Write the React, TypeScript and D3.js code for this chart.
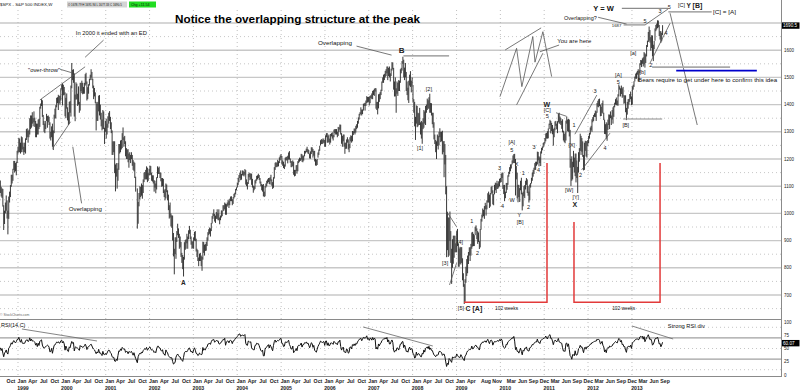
import React from "react";
import * as d3 from "d3";

type Bar = [number, number, number] | null; // [low, high, close]

// ---------- DATA (weekly S&P 500, read/estimated from the chart) ----------
const warmupCloses = [1012, 1020, 1034, 1049, 1055, 1069, 1100, 1095, 1122, 1110, 1123, 1108, 1121, 1108, 1108, 1110, 1091, 1113, 1098, 1100, 1134, 1146, 1165, 1187, 1141, 1121];

const w1998: Bar[] = [[1075,1121,1089],[1062,1098,1062],[1057,1092,1081],[1025,1090,1027],[939,1030,973],[961,1010,1010],[1000,1040,1021],[1010,1066,1044],[981,1048,1002],[923,1010,984],[980,1062,1056],[1040,1080,1070],[1060,1104,1098],[1098,1142,1141],[1110,1142,1125],[1120,1164,1163],[1160,1193,1192],[1150,1193,1176],[1155,1185,1166],[1140,1190,1188],[1185,1230,1228],[1220,1244,1229]];
const w1999: Bar[] = [[1225,1278,1275],[1225,1275,1243],[1220,1260,1225],[1225,1283,1279],[1235,1280,1239],[1225,1260,1230],[1215,1245,1239],[1225,1260,1238],[1220,1276,1275],[1270,1310,1294],[1280,1313,1299],[1260,1303,1282],[1280,1308,1293],[1290,1350,1348],[1310,1360,1319],[1315,1360,1356],[1330,1372,1335],[1320,1350,1346],[1335,1375,1338],[1318,1352,1330],[1280,1340,1302],[1280,1330,1327],[1290,1330,1293],[1290,1345,1342],[1310,1348,1316],[1318,1392,1391],[1385,1404,1403],[1395,1420,1418],[1355,1416,1357],[1325,1362,1329],[1300,1340,1313],[1295,1330,1327],[1310,1340,1336],[1340,1366,1348],[1315,1358,1357],[1335,1360,1351],[1325,1355,1335],[1275,1335,1277],[1268,1300,1282],[1280,1320,1317],[1245,1330,1247],[1233,1305,1301],[1295,1363,1362],[1348,1385,1370],[1350,1398,1397],[1390,1425,1422],[1405,1427,1416],[1380,1436,1433],[1405,1432,1417],[1400,1433,1421],[1415,1460,1458],[1455,1474,1469]];
const w2000: Bar[] = [[1397,1478,1441],[1434,1473,1465],[1436,1465,1441],[1357,1445,1360],[1350,1425,1424],[1385,1441,1387],[1342,1390,1346],[1325,1372,1333],[1330,1410,1409],[1370,1413,1395],[1356,1470,1464],[1460,1553,1527],[1490,1528,1499],[1480,1530,1516],[1356,1515,1357],[1339,1437,1434],[1418,1482,1452],[1420,1477,1433],[1395,1440,1420],[1400,1467,1406],[1370,1410,1378],[1378,1480,1478],[1450,1480,1457],[1442,1488,1465],[1438,1480,1441],[1440,1465,1455],[1440,1480,1478],[1470,1512,1509],[1475,1517,1481],[1415,1485,1419],[1420,1464,1462],[1440,1475,1471],[1470,1495,1491],[1490,1510,1507],[1500,1530,1521],[1490,1520,1495],[1460,1495,1466],[1420,1470,1449],[1430,1461,1437],[1405,1445,1409],[1305,1410,1374],[1340,1403,1396],[1340,1410,1380],[1375,1433,1427],[1360,1435,1365],[1345,1400,1367],[1320,1370,1341],[1305,1345,1315],[1310,1380,1369],[1310,1375,1312],[1255,1315,1305],[1300,1340,1320]];
const w2001: Bar[] = [[1275,1348,1298],[1290,1330,1318],[1315,1357,1342],[1330,1370,1355],[1340,1376,1349],[1310,1355,1315],[1295,1335,1301],[1215,1305,1245],[1215,1265,1234],[1225,1265,1233],[1148,1265,1150],[1081,1180,1139],[1135,1185,1160],[1091,1165,1128],[1120,1185,1183],[1160,1255,1242],[1220,1255,1234],[1225,1268,1266],[1235,1270,1245],[1240,1295,1291],[1270,1316,1277],[1245,1280,1260],[1255,1285,1265],[1210,1265,1214],[1200,1240,1226],[1200,1235,1224],[1188,1236,1190],[1168,1220,1215],[1196,1225,1210],[1185,1215,1205],[1200,1225,1214],[1175,1215,1190],[1160,1196,1161],[1155,1190,1185],[1130,1186,1134],[1080,1135,1085],null,[944,1092,966],[962,1042,1041],[1026,1075,1071],[1052,1100,1091],[1060,1097,1073],[1065,1110,1104],[1054,1104,1087],[1075,1125,1120],[1115,1150,1138],[1125,1152,1150],[1125,1160,1139],[1125,1173,1167],[1115,1168,1124],[1120,1148,1144],[1140,1164,1161]];
const w2002: Bar[] = [[1140,1176,1173],[1142,1174,1146],[1120,1150,1128],[1117,1140,1134],[1110,1140,1122],[1080,1122,1096],[1095,1120,1105],[1074,1110,1090],[1088,1133,1132],[1130,1173,1165],[1145,1168,1166],[1145,1172,1148],[1130,1150,1147],[1118,1150,1122],[1098,1130,1111],[1100,1130,1125],[1075,1127,1076],[1060,1085,1073],[1048,1090,1054],[1055,1110,1106],[1078,1106,1083],[1048,1085,1067],[1012,1069,1027],[981,1030,1007],[985,1040,990],[952,1000,990],[947,993,989],[900,992,921],[842,928,847],[776,870,852],[850,912,864],[833,912,908],[895,935,928],[920,962,940],[910,945,916],[870,925,893],[875,915,889],[840,895,846],[818,855,827],[795,847,800],[768,840,835],[830,894,884],[866,902,897],[870,905,900],[890,925,894],[870,915,909],[905,938,930],[925,954,936],[905,940,912],[885,915,889],[870,898,895],[872,897,875]];
const w2003: Bar[] = [[870,912,908],[900,932,927],[898,935,901],[860,907,861],[840,870,856],[825,865,829],[806,838,834],[825,852,851],[825,855,841],[806,845,829],[789,840,833],[830,896,895],[855,895,864],[845,885,876],[862,887,868],[863,895,893],[880,912,898],[900,931,930],[920,942,933],[925,948,944],[915,945,933],[935,965,964],[963,990,987],[980,1000,988],[990,1015,995],[970,998,976],[965,992,986],[980,1005,998],[980,1015,993],[975,1000,998],[975,1015,980],[960,985,977],[975,992,990],[985,1011,993],[990,1010,1008],[1008,1030,1021],[1010,1030,1018],[1015,1040,1036],[995,1036,996],[995,1034,1029],[1025,1040,1038],[1030,1050,1039],[1020,1045,1028],[1030,1054,1050],[1045,1062,1053],[1045,1063,1050],[1030,1052,1035],[1035,1060,1058],[1055,1072,1061],[1060,1076,1075],[1070,1090,1089],[1085,1096,1095],[1095,1112,1108]];
const w2004: Bar[] = [[1105,1131,1122],[1115,1141,1140],[1130,1150,1141],[1122,1158,1131],[1124,1145,1142],[1140,1158,1146],[1139,1157,1144],[1136,1152,1145],[1142,1163,1156],[1106,1159,1120],[1100,1125,1110],[1088,1115,1108],[1108,1145,1141],[1133,1150,1139],[1122,1147,1134],[1125,1147,1140],[1105,1146,1107],[1095,1127,1099],[1076,1102,1096],[1085,1100,1094],[1090,1122,1121],[1110,1125,1123],[1120,1138,1137],[1125,1140,1135],[1130,1146,1135],[1123,1141,1126],[1110,1130,1113],[1100,1117,1101],[1085,1108,1096],[1080,1105,1102],[1063,1108,1064],[1060,1080,1064],[1063,1100,1099],[1095,1110,1107],[1100,1120,1113],[1110,1125,1123],[1115,1130,1128],[1108,1130,1110],[1106,1133,1131],[1120,1142,1122],[1102,1125,1108],[1090,1115,1095],[1094,1133,1130],[1128,1170,1167],[1160,1186,1185],[1170,1189,1171],[1170,1185,1183],[1172,1197,1191],[1173,1192,1189],[1185,1206,1195],[1195,1213,1210],[1205,1218,1212]];
const w2005: Bar[] = [[1180,1211,1186],[1175,1195,1185],[1167,1190,1168],[1163,1180,1171],[1172,1205,1203],[1195,1208,1205],[1195,1208,1201],[1184,1212,1211],[1198,1224,1222],[1198,1229,1200],[1186,1202,1190],[1170,1193,1172],[1170,1191,1173],[1174,1195,1192],[1142,1190,1143],[1136,1160,1153],[1138,1160,1157],[1155,1177,1172],[1146,1178,1155],[1155,1192,1190],[1185,1199,1198],[1190,1205,1197],[1193,1203,1201],[1198,1219,1217],[1190,1217,1191],[1188,1212,1211],[1194,1213,1212],[1210,1230,1228],[1220,1230,1227],[1225,1238,1234],[1225,1245,1226],[1220,1237,1231],[1218,1233,1220],[1202,1220,1205],[1201,1228,1218],[1218,1243,1241],[1225,1243,1237],[1205,1237,1215],[1212,1230,1229],[1191,1230,1196],[1176,1200,1186],[1175,1197,1180],[1178,1200,1198],[1205,1224,1220],[1215,1235,1234],[1230,1249,1248],[1250,1269,1268],[1255,1273,1265],[1255,1271,1259],[1257,1276,1267],[1260,1272,1268],[1245,1270,1248]];
const w2006: Bar[] = [[1245,1287,1285],[1280,1295,1287],[1260,1295,1261],[1260,1286,1284],[1262,1290,1264],[1253,1275,1267],[1260,1292,1288],[1283,1295,1289],[1275,1298,1287],[1268,1288,1281],[1280,1308,1307],[1295,1310,1302],[1290,1310,1295],[1290,1310,1295],[1280,1300,1289],[1285,1318,1311],[1300,1316,1310],[1308,1327,1325],[1290,1326,1291],[1256,1295,1267],[1245,1285,1280],[1265,1290,1288],[1245,1290,1252],[1219,1260,1251],[1237,1260,1245],[1238,1272,1270],[1260,1280,1265],[1235,1272,1236],[1225,1255,1240],[1240,1280,1279],[1265,1287,1280],[1260,1285,1266],[1265,1303,1302],[1288,1302,1295],[1295,1312,1311],[1290,1312,1299],[1297,1322,1320],[1310,1328,1315],[1315,1340,1336],[1330,1353,1350],[1345,1366,1365],[1360,1372,1368],[1365,1390,1377],[1360,1382,1364],[1365,1382,1380],[1378,1403,1401],[1395,1405,1400],[1378,1407,1396],[1395,1415,1409],[1405,1431,1427],[1408,1428,1410],[1410,1428,1418]];
const w2007: Bar[] = [[1397,1430,1409],[1405,1432,1431],[1424,1435,1430],[1420,1441,1422],[1420,1450,1449],[1435,1453,1438],[1432,1458,1456],[1448,1461,1451],[1385,1460,1387],[1380,1410,1402],[1364,1410,1386],[1386,1438,1437],[1410,1440,1421],[1420,1446,1444],[1435,1455,1453],[1450,1485,1484],[1480,1500,1495],[1480,1510,1505],[1490,1513,1505],[1500,1524,1522],[1505,1530,1515],[1515,1540,1536],[1490,1540,1507],[1505,1535,1533],[1500,1540,1502],[1485,1515,1503],[1505,1532,1530],[1525,1556,1552],[1530,1555,1534],[1455,1535,1458],[1430,1485,1433],[1430,1500,1453],[1370,1460,1445],[1440,1485,1479],[1432,1480,1474],[1450,1490,1454],[1450,1488,1484],[1480,1530,1525],[1515,1535,1527],[1525,1560,1557],[1550,1576,1561],[1500,1565,1500],[1490,1536,1535],[1500,1553,1509],[1450,1520,1453],[1435,1485,1458],[1416,1462,1441],[1406,1488,1481],[1470,1510,1504],[1465,1523,1468],[1445,1488,1484],[1470,1500,1478]];
const w2008: Bar[] = [[1410,1472,1411],[1370,1420,1401],[1320,1410,1325],[1270,1355,1331],[1330,1397,1396],[1317,1395,1331],[1320,1370,1350],[1325,1368,1353],[1325,1388,1331],[1290,1335,1294],[1275,1340,1289],[1256,1335,1330],[1310,1350,1316],[1315,1380,1370],[1330,1375,1333],[1325,1395,1390],[1370,1400,1398],[1380,1422,1414],[1385,1416,1388],[1385,1427,1425],[1370,1440,1375],[1370,1406,1400],[1360,1405,1361],[1328,1370,1360],[1315,1370,1318],[1272,1335,1278],[1255,1290,1262],[1225,1270,1240],[1200,1265,1260],[1248,1290,1257],[1235,1285,1260],[1250,1300,1296],[1280,1313,1298],[1262,1300,1292],[1265,1300,1283],[1217,1304,1242],[1225,1265,1252],[1133,1266,1255],[1180,1255,1213],[1070,1215,1099],[839,1100,899],[865,1006,940],[840,985,876],[845,985,968],[900,1007,930],[818,935,873],[741,870,800],[800,905,896],[815,918,876],[837,918,879],[857,918,887],[857,890,873]];
const w2009: Bar[] = [[857,935,931],[880,943,890],[804,890,850],[804,871,831],[815,877,826],[812,875,869],[818,876,827],[754,835,770],[730,780,735],[667,740,683],[675,758,756],[745,804,769],[770,832,816],[780,845,843],[814,858,857],[845,875,869],[825,876,866],[845,888,878],[870,930,929],[878,932,883],[880,925,887],[880,920,919],[920,951,940],[935,956,946],[905,945,921],[888,935,918],[895,930,896],[869,898,879],[875,943,940],[940,980,979],[970,996,987],[985,1018,1010],[990,1013,1005],[980,1027,1026],[1015,1039,1029],[992,1030,1016],[1015,1048,1042],[1040,1074,1068],[1040,1080,1045],[1020,1069,1026],[1025,1075,1071],[1070,1097,1087],[1075,1101,1080],[1033,1085,1036],[1030,1071,1069],[1070,1105,1093],[1085,1113,1091],[1075,1111,1091],[1090,1120,1106],[1090,1110,1106],[1095,1118,1102],[1100,1127,1126],[1114,1130,1115]];
const w2010: Bar[] = [[1115,1146,1145],[1130,1150,1136],[1090,1150,1092],[1071,1104,1074],[1045,1105,1066],[1056,1080,1075],[1075,1112,1109],[1087,1112,1105],[1105,1140,1139],[1135,1153,1150],[1145,1170,1160],[1155,1180,1167],[1165,1181,1179],[1180,1195,1194],[1185,1213,1192],[1185,1218,1217],[1185,1219,1187],[1066,1200,1111],[1125,1174,1136],[1055,1150,1088],[1041,1105,1089],[1060,1105,1064],[1042,1093,1092],[1085,1120,1118],[1070,1131,1076],[1011,1075,1023],[1026,1080,1078],[1063,1100,1065],[1056,1104,1102],[1088,1120,1102],[1105,1130,1122],[1075,1125,1079],[1065,1100,1071],[1040,1080,1065],[1048,1106,1105],[1095,1112,1110],[1110,1131,1125],[1120,1150,1149],[1135,1160,1146],[1145,1168,1166],[1160,1185,1176],[1160,1190,1183],[1175,1190,1183],[1180,1227,1225],[1195,1226,1200],[1173,1210,1200],[1185,1206,1189],[1174,1228,1225],[1220,1241,1240],[1232,1246,1244],[1242,1259,1257],[1250,1262,1258]];
const w2011: Bar[] = [[1257,1277,1271],[1265,1294,1293],[1275,1296,1283],[1275,1302,1276],[1276,1312,1311],[1310,1330,1329],[1325,1344,1343],[1294,1340,1320],[1303,1333,1321],[1291,1325,1304],[1249,1310,1279],[1280,1315,1314],[1305,1338,1332],[1322,1340,1329],[1309,1330,1320],[1295,1339,1337],[1335,1366,1364],[1330,1370,1340],[1330,1356,1338],[1325,1350,1333],[1311,1340,1331],[1298,1346,1300],[1268,1304,1271],[1262,1292,1271],[1258,1298,1268],[1268,1341,1339],[1330,1356,1344],[1302,1345,1316],[1300,1347,1345],[1283,1345,1292],[1168,1307,1199],[1101,1200,1179],[1120,1210,1124],[1125,1190,1177],[1170,1230,1174],[1150,1205,1154],[1137,1220,1216],[1114,1220,1136],[1130,1195,1131],[1075,1171,1155],[1150,1225,1224],[1190,1240,1238],[1230,1293,1285],[1215,1285,1253],[1227,1277,1263],[1208,1265,1216],[1158,1215,1159],[1160,1260,1244],[1230,1267,1255],[1209,1265,1219],[1205,1266,1265],[1248,1270,1258]];
const w2012: Bar[] = [[1258,1285,1278],[1275,1296,1289],[1290,1316,1315],[1305,1322,1316],[1300,1346,1345],[1335,1354,1343],[1340,1362,1361],[1355,1368,1366],[1354,1378,1370],[1340,1375,1371],[1370,1406,1404],[1392,1414,1397],[1390,1420,1408],[1395,1422,1398],[1357,1400,1370],[1358,1392,1378],[1370,1406,1403],[1367,1415,1369],[1343,1370,1353],[1292,1345,1295],[1291,1328,1317],[1275,1335,1278],[1267,1330,1325],[1307,1345,1343],[1325,1364,1335],[1310,1363,1362],[1350,1375,1355],[1325,1360,1357],[1345,1380,1363],[1330,1390,1386],[1355,1395,1391],[1390,1407,1406],[1400,1420,1418],[1398,1426,1411],[1397,1415,1407],[1396,1438,1438],[1430,1474,1466],[1455,1467,1460],[1430,1460,1441],[1439,1470,1461],[1425,1460,1428],[1430,1465,1433],[1403,1434,1412],[1405,1434,1414],[1372,1434,1380],[1343,1388,1359],[1363,1410,1409],[1385,1420,1416],[1400,1421,1418],[1410,1439,1413],[1420,1448,1430],[1398,1430,1402]];
const w2013: Bar[] = [[1400,1467,1466],[1455,1473,1472],[1465,1486,1486],[1485,1503,1503],[1495,1514,1513],[1495,1518,1518],[1510,1524,1520],[1485,1530,1516],[1485,1525,1518],[1515,1552,1551],[1545,1564,1561],[1538,1563,1556],[1550,1570,1569],[1540,1574,1553],[1548,1593,1588],[1536,1589,1555],[1553,1585,1582],[1577,1619,1614],[1612,1635,1633],[1630,1667,1667],[1635,1687,1650],[1628,1674,1631],[1598,1648,1643],[1608,1655,1627],[1577,1654,1593],[1560,1620,1606],[1604,1634,1632],[1635,1680,1680],[1670,1693,1692],[1676,1698,1692],[1681,1710,1710],[1684,1709,1691],[1652,1693,1656],[1639,1670,1664],[1627,1670,1633],[1633,1664,1655],[1656,1692,1690.5]];

const yearSeries: [string, Bar[]][] = [
  ["1998-08-07", w1998], ["1999-01-08", w1999], ["2000-01-07", w2000], ["2001-01-05", w2001],
  ["2002-01-04", w2002], ["2003-01-03", w2003], ["2004-01-09", w2004], ["2005-01-07", w2005],
  ["2006-01-06", w2006], ["2007-01-05", w2007], ["2008-01-04", w2008], ["2009-01-02", w2009],
  ["2010-01-08", w2010], ["2011-01-07", w2011], ["2012-01-06", w2012], ["2013-01-04", w2013],
];

const priceTicks = [700, 800, 900, 1000, 1100, 1200, 1300, 1400, 1500, 1600];
const rsiTicks = [0, 25, 50, 75, 100];
const tickMonths: [number, number[]][] = [
  [1998, [10]], [1999, [1, 4, 7, 10]], [2000, [1, 4, 7, 10]], [2001, [1, 4, 7, 10]], [2002, [1, 4, 7, 10]],
  [2003, [1, 4, 7, 10]], [2004, [1, 4, 7, 10]], [2005, [1, 4, 7, 10]], [2006, [1, 4, 7, 10]], [2007, [1, 4, 7, 10]],
  [2008, [1, 4, 7, 10]], [2009, [1, 4, 8, 11]], [2010, [3, 6, 9, 12]], [2011, [3, 6, 9, 12]], [2012, [3, 6, 9, 12]], [2013, [3, 6, 9]],
];
const yearLabels = [1999, 2000, 2001, 2002, 2003, 2004, 2005, 2006, 2007, 2008, 2009, 2010, 2011, 2012, 2013];
const lastClose = 1690.5;
const lastRsiLabel = 60.07;

// ---------- helpers ----------
const FONT = "'Liberation Sans', Arial, Helvetica, sans-serif";
const fy = (t: number) => {
  const y = Math.floor(t);
  const a = Date.UTC(y, 0, 1), b = Date.UTC(y + 1, 0, 1);
  return new Date(a + (t - y) * (b - a));
};

const bars: { date: Date; l: number; h: number; c: number }[] = [];
yearSeries.forEach(([s, arr]) => {
  const base = Date.parse(s + "T00:00:00Z");
  arr.forEach((b, i) => {
    if (b) bars.push({ date: new Date(base + i * 7 * 864e5), l: b[0], h: b[1], c: b[2] });
  });
});

function computeRsi(closes: number[], n = 14) {
  const out = new Array(closes.length).fill(NaN);
  let ag = 0, al = 0;
  for (let i = 1; i <= n; i++) {
    const d = closes[i] - closes[i - 1];
    if (d > 0) ag += d; else al -= d;
  }
  ag /= n; al /= n;
  out[n] = 100 - 100 / (1 + ag / al);
  for (let i = n + 1; i < closes.length; i++) {
    const d = closes[i] - closes[i - 1];
    ag = (ag * (n - 1) + Math.max(d, 0)) / n;
    al = (al * (n - 1) + Math.max(-d, 0)) / n;
    out[i] = al === 0 ? 100 : 100 - 100 / (1 + ag / al);
  }
  return out;
}
const allCloses = warmupCloses.concat(bars.map((b) => b.c));
const rsiAll = computeRsi(allCloses);
const rsiVals = rsiAll.slice(warmupCloses.length);

// ---------- annotations (in data units: fractional year, price) ----------
const thinLines: [number, number, number, number][] = [
  [1999.50, 1417, 2000.53, 1539],
  [1999.79, 1239, 2000.20, 1337],
  [2000.95, 1637, 2000.53, 1574],
  [1999.96, 1530, 2000.23, 1517],
  [2000.45, 1037, 2000.25, 1245],
  [2006.72, 1615, 2007.52, 1582],
  [2010.11, 1601, 2010.93, 1682],
  [2010.37, 1399, 2010.97, 1589],
  [2011.34, 1619, 2010.90, 1594],
  [2008.78, 1006, 2009.00, 951],
  [2008.84, 737, 2009.00, 817],
  [2011.27, 1370, 2011.51, 1357],
  [2011.70, 1291, 2012.20, 1435],
  [2011.855, 1160, 2012.50, 1295],
  [2012.23, 1721, 2012.88, 1696],
  [2013.30, 1693, 2013.82, 1751],
  [2013.41, 1552, 2013.87, 1699],
  [2013.87, 1736, 2014.49, 1325],
];
const zigzag: [number, number][] = [[2009.99, 1429], [2010.37, 1607], [2010.49, 1466], [2010.74, 1650], [2010.79, 1556], [2010.97, 1668], [2011.17, 1503]];
const greyHLines: [number, number, number][] = [
  [2007.79, 2008.83, 1579],
  [2012.77, 2013.83, 1754],
  [2013.83, 2014.82, 1741],
  [2012.81, 2013.30, 1693],
  [2012.80, 2013.69, 1347],
];
const redPaths: [number, number][][] = [
  [[2009.17, 673], [2011.064, 673], [2011.064, 1185]],
  [[2011.68, 968], [2011.68, 673], [2013.641, 673], [2013.641, 1185]],
];
const waveLabels: [string, number, number][] = [
  ["[3]", 2008.74, 819], ["[4]", 2009.08, 894], ["1", 2009.35, 972], ["2", 2009.48, 853], ["3", 2009.98, 1166],
  ["4", 2010.05, 1027], ["[A]", 2010.26, 1261], ["5", 2010.26, 1233], ["X", 2010.37, 1182], ["W", 2010.27, 1049],
  ["Y", 2010.43, 994], ["[B]", 2010.45, 970], ["1", 2010.52, 1147], ["2", 2010.64, 1022], ["3", 2010.77, 1243],
  ["4", 2010.87, 1160], ["[C]", 2011.07, 1380], ["5", 2011.07, 1358], ["1", 2011.68, 1325], ["[X]", 2011.63, 1252],
  ["[W]", 2011.57, 1086], ["[Y]", 2011.72, 1059], ["2", 2011.83, 1142], ["4", 2012.39, 1239], ["3", 2012.16, 1450],
  ["[B]", 2012.86, 1325], ["[A]", 2012.69, 1509], ["5", 2012.69, 1484], ["[a]", 2013.03, 1591], ["[b]", 2013.24, 1521],
  ["2", 2013.43, 1546], ["4", 2013.78, 1662], ["5", 2013.30, 1708], ["3", 2013.64, 1745], ["5", 2013.85, 1760],
  ["[2]", 2008.37, 1457], ["[1]", 2008.17, 1240],
];
const boldLabels: [string, number, number, number][] = [
  ["A", 2002.77, 747, 6.5], ["B", 2007.75, 1598, 8], ["W", 2011.06, 1402, 7], ["X", 2011.70, 1031, 7],
];
const notes: [string, number, number, number, number][] = [
  ["In 2000 it ended with an ED", 2000.32, 1664, 5.5, 71],
  ["\"over-throw\"", 1999.23, 1527, 5.5, 32],
  ["Overlapping", 2000.16, 1016, 5.8, 33],
  ["Overlapping", 2005.84, 1626, 5.8, 34],
  ["You are here", 2011.30, 1634, 5.5, 34],
  ["102 weeks", 2009.88, 652, 5.5, 23],
  ["102 weeks", 2012.55, 652, 5.5, 23],
  ["[C] = [A]", 2014.85, 1741, 5.5, 23],
  ["Bears require to get under here to confirm this idea", 2013.14, 1490, 5.4, 139],
];
const rsiLines: [number, number, number, number][] = [
  [1999.09, 86.8, 2000.80, 64.2],
  [2006.87, 90.6, 2008.46, 54.7],
  [2013.00, 92.5, 2013.94, 67.9],
];

export default function App() {
  const x = d3.scaleUtc().domain([fy(1998.5895), fy(2016.4002)]).range([0, 781]);
  const y = d3.scaleLinear().domain([611.8, 1747.8]).range([319, 10]);
  const r = d3.scaleLinear().domain([0, 100]).range([375, 322]);
  const X = (t: number) => x(fy(t));

  const rsiLine = d3.line<number>()
    .defined((v) => !isNaN(v))
    .x((_, i) => x(bars[i].date))
    .y((v) => r(v))(rsiVals) || "";

  const hGrid: number[] = d3.range(650, 1701, 50);
  const fmt = d3.utcFormat("%b");
  const tickList: { d: Date; s: string }[] = [];
  tickMonths.forEach(([yr, ms]) => ms.forEach((m) => {
    const d = new Date(Date.UTC(yr, m - 1, 1));
    tickList.push({ d, s: fmt(d) });
  }));
  const pathOf = d3.line<[number, number]>().x((d) => X(d[0])).y((d) => y(d[1]));

  return (
    <svg width={800} height={391} style={{ display: "block", position: "absolute", left: 0, top: 0, background: "#fff" }} fontFamily={FONT}>
      <defs>
        <clipPath id="mainclip"><rect x={0} y={10} width={781} height={309} /></clipPath>
        <clipPath id="rsiclip"><rect x={0} y={320} width={781} height={56} /></clipPath>
      </defs>
      <rect x={0} y={0} width={800} height={391} fill="#fff" />

      {/* horizontal price grid */}
      {hGrid.map((p) => (
        <line key={"hg" + p} x1={0} x2={781} y1={y(p)} y2={y(p)}
          stroke={p % 100 === 0 ? "#c8c8c8" : "#b8b8b8"} strokeWidth={p % 100 === 0 ? 1.4 : 0.8}
          strokeDasharray={p % 100 === 0 ? undefined : "1,3"} />
      ))}
      {/* RSI grid */}
      {[90, 50, 10].map((v) => (
        <line key={"rg" + v} x1={0} x2={781} y1={r(v)} y2={r(v)} stroke="#b8b8b8" strokeWidth={0.8} strokeDasharray="1,3" />
      ))}
      {[70, 30].map((v) => (
        <line key={"rl" + v} x1={0} x2={781} y1={r(v)} y2={r(v)} stroke="#a0a0a0" strokeWidth={1.2} />
      ))}
      {/* vertical year grid */}
      {yearLabels.map((yr) => (
        <line key={"vg" + yr} x1={x(new Date(Date.UTC(yr, 0, 1)))} x2={x(new Date(Date.UTC(yr, 0, 1)))} y1={10} y2={376}
          stroke="#b0b0b0" strokeWidth={0.8} strokeDasharray="1,3" />
      ))}

      {/* panel borders */}
      <line x1={0} x2={781} y1={319.5} y2={319.5} stroke="#8a8a8a" strokeWidth={1.2} />
      <line x1={0} x2={781} y1={376.5} y2={376.5} stroke="#8a8a8a" strokeWidth={1} />
      <line x1={781.5} x2={781.5} y1={0} y2={377} stroke="#8a8a8a" strokeWidth={1} />

      {/* price bars */}
      <g clipPath="url(#mainclip)" stroke="#2e2e2e" strokeWidth={0.95}>
        {bars.map((b, i) => {
          const xx = x(b.date);
          return <line key={"b" + i} x1={xx} x2={xx} y1={y(b.h)} y2={y(b.l)} />;
        })}
      </g>

      {/* red 102-week markers */}
      {redPaths.map((pts, i) => (
        <path key={"red" + i} d={pathOf(pts) || ""} fill="none" stroke="#e23a3a" strokeWidth={1.5} />
      ))}

      {/* grey annotation lines */}
      {thinLines.map(([t1, p1, t2, p2], i) => (
        <line key={"tl" + i} x1={X(t1)} y1={y(p1)} x2={X(t2)} y2={y(p2)} stroke="#555" strokeWidth={0.8} />
      ))}
      <path d={pathOf(zigzag) || ""} fill="none" stroke="#555" strokeWidth={0.8} />
      {greyHLines.map(([t1, t2, p], i) => (
        <line key={"gh" + i} x1={X(t1)} x2={X(t2)} y1={y(p)} y2={y(p)} stroke="#8c8c8c" strokeWidth={1.2} />
      ))}
      <line x1={X(2013.46)} x2={X(2015.24)} y1={y(1538)} y2={y(1538)} stroke="#a8a8a8" strokeWidth={1.8} />
      <line x1={X(2014.01)} x2={X(2015.85)} y1={y(1525)} y2={y(1525)} stroke="#0000cc" strokeWidth={1.8} />

      {/* wave labels */}
      {waveLabels.map(([s, t, p], i) => (
        <text key={"wl" + i} x={X(t)} y={y(p)} fontSize={5.5} textAnchor="middle" dominantBaseline="central" fill="#222">{s}</text>
      ))}
      {boldLabels.map(([s, t, p, fs], i) => (
        <text key={"bl" + i} x={X(t)} y={y(p)} fontSize={fs} fontWeight="bold" textAnchor="middle" dominantBaseline="central" fill="#222">{s}</text>
      ))}
      {notes.map(([s, t, p, fs, len], i) => (
        <text key={"nt" + i} x={X(t)} y={y(p)} fontSize={fs} dominantBaseline="central" fill="#111"
          textLength={len} lengthAdjust="spacingAndGlyphs">{s}</text>
      ))}
      <text x={X(2009.03)} y={y(652)} dominantBaseline="central" fill="#222">
        <tspan fontSize={5.5}>[5] </tspan><tspan fontSize={7} fontWeight="bold">C [A]</tspan>
      </text>
      <text x={X(2012.20)} y={y(1717)} fontSize={5.5} textAnchor="end" dominantBaseline="central" fill="#111">Overlapping?</text>
      <text x={X(2012.12)} y={y(1754)} fontSize={7.5} fontWeight="bold" dominantBaseline="central" fill="#111">Y = W</text>
      <text x={X(2012.65)} y={y(1689)} fontSize={4.3} textAnchor="middle" dominantBaseline="central" fill="#222">1687</text>
      <text x={X(2014.05)} y={y(1766)} dominantBaseline="central" fill="#222">
        <tspan fontSize={5.5}>[C] </tspan><tspan fontSize={6.5} fontWeight="bold">Y </tspan><tspan fontSize={7} fontWeight="bold">[B]</tspan>
      </text>

      {/* title and header */}
      <text x={175} y={19} fontSize={10.5} fontWeight="bold" dominantBaseline="central" fill="#000" textLength={245} lengthAdjust="spacingAndGlyphs">Notice the overlapping structure at the peak</text>
      <text x={0} y={4.5} fontSize={4.4} dominantBaseline="central" fill="#111">$SPX - S&amp;P 500 INDEX,W</text>
      <rect x={67} y={1.5} width={60} height={6} fill="#d4d4d4" />
      <text x={68} y={4.5} fontSize={2.9} dominantBaseline="central" fill="#111">O 1678.79 H 1691.94 L 1677.33 C 1690.5</text>
      <rect x={129} y={1.5} width={27} height={6} fill="#22dd22" />
      <text x={131} y={4.5} fontSize={3.6} dominantBaseline="central" fill="#111">Chg +11.54</text>

      {/* right price axis */}
      {priceTicks.map((p) => (
        <text key={"pt" + p} x={784} y={y(p)} fontSize={4.5} dominantBaseline="central" fill="#222">{p}</text>
      ))}
      <rect x={782} y={y(lastClose) - 3.2} width={17.5} height={6.4} fill="#000" />
      <text x={783} y={y(lastClose)} fontSize={4.6} dominantBaseline="central" fill="#fff">{lastClose}</text>

      {/* RSI panel */}
      <text x={0} y={315} fontSize={3.4} dominantBaseline="central" fill="#666">© StockCharts.com</text>
      <text x={1} y={324.5} fontSize={5.5} dominantBaseline="central" fill="#111">RSI(14,C)</text>
      <g clipPath="url(#rsiclip)">
        <path d={rsiLine} fill="none" stroke="#111" strokeWidth={1} />
      </g>
      {rsiLines.map(([t1, v1, t2, v2], i) => (
        <line key={"rsl" + i} x1={X(t1)} y1={r(v1)} x2={X(t2)} y2={r(v2)} stroke="#666" strokeWidth={0.8} />
      ))}
      <text x={X(2013.82)} y={r(92.5)} fontSize={5.5} dominantBaseline="central" fill="#111" textLength={37} lengthAdjust="spacingAndGlyphs">Strong RSI div</text>
      {rsiTicks.map((v) => (
        <text key={"rt" + v} x={784} y={r(v)} fontSize={4.5} dominantBaseline="central" fill="#222">{v}</text>
      ))}
      <rect x={782} y={r(lastRsiLabel) - 3.2} width={17.5} height={6.4} fill="#000" />
      <text x={783} y={r(lastRsiLabel)} fontSize={4.6} dominantBaseline="central" fill="#fff">{lastRsiLabel}</text>

      {/* time axis */}
      {tickList.map((tk, i) => (
        <text key={"mt" + i} x={x(tk.d) + 4} y={381} fontSize={5.2} fontWeight="bold" textAnchor="middle" dominantBaseline="central" fill="#222">{tk.s}</text>
      ))}
      {yearLabels.map((yr) => (
        <text key={"yl" + yr} x={x(new Date(Date.UTC(yr, 0, 1))) + 5} y={388} fontSize={5.2} fontWeight="bold" textAnchor="middle" dominantBaseline="central" fill="#222">{yr}</text>
      ))}
    </svg>
  );
}
